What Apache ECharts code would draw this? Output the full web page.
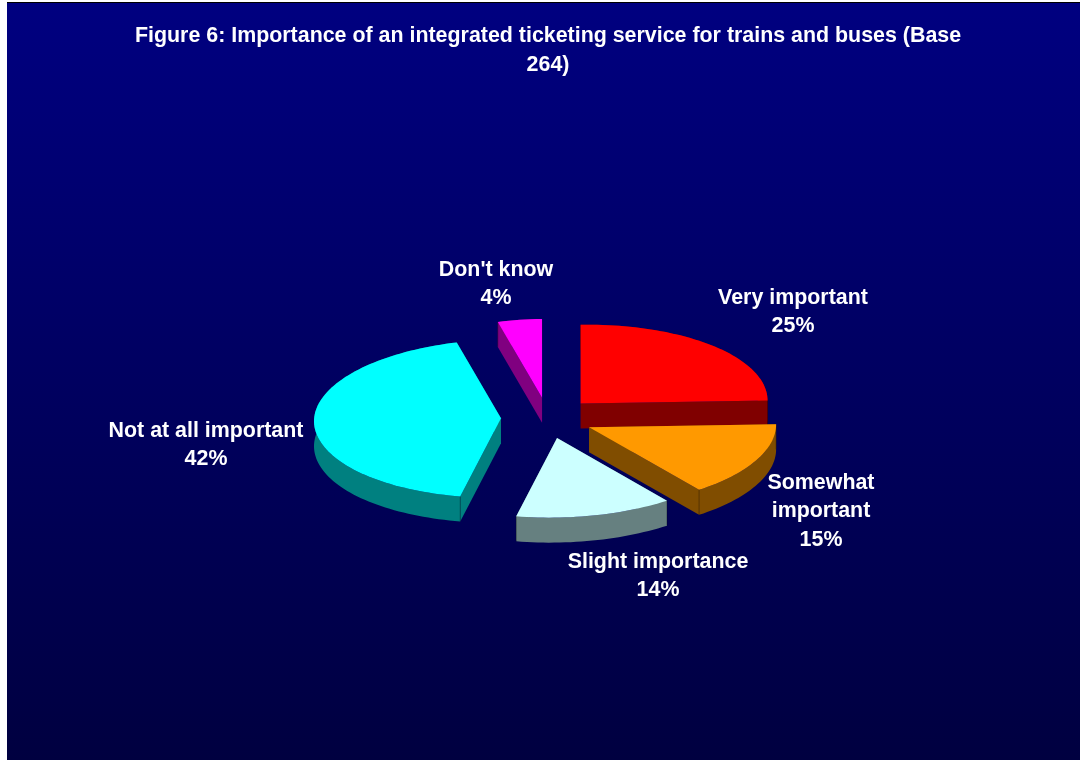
<!DOCTYPE html>
<html>
<head>
    <meta charset="utf-8">
    <title>Figure 6</title>
    <style>body{margin:0;background:#fff;}</style>
</head>
<body>
<div id="main" style="width:1080px;height:760px;"></div>

<script src="https://cdn.jsdelivr.net/npm/echarts@6/dist/echarts.min.js"></script>
<script type="text/javascript">
// data
var categories = ['Very important', 'Somewhat important', 'Slight importance', 'Not at all important', "Don't know"];
var labelLines = [['Very important'], ['Somewhat', 'important'], ['Slight importance'], ['Not at all important'], ["Don't know"]];
// printed percentages
var percents = [25, 15, 14, 42, 4];
var values = [25, 15, 13.5, 42.7, 3.8];

// colours
var topColors = ['#ff0000', '#ff9900', '#ccffff', '#00ffff', '#ff00ff'];
var sideColors = ['#800000', '#804d00', '#668080', '#008080', '#800080'];

// pie layout
var cx = 547.6, cy = 418;
var rx = 187, ryBack = 78.7, ryFront = 79.5;
var explode = 46.6, explodeY = 20.5;
var depth = 25, tilt = 3;
var font = '"Liberation Sans", Arial, sans-serif';
var labelCenter = [[793, 298], [821, 483], [658, 562], [206, 431], [496, 270]];

var total = values.reduce(function (a, b) { return a + b; }, 0);

// angle in radians clockwise from the top -> screen offset from the slice apex
function proj(a, r) {
    var c = Math.cos(a), s = Math.sin(a);
    var ry = c > 0 ? ryBack : ryFront;
    return [r * rx * s, -r * ry * c - tilt * r * s];
}

function renderSlice(params, api) {
    var i = params.dataIndex;
    var before = 0;
    for (var k = 0; k < i; k++) before += values[k];
    var a0 = before / total * Math.PI * 2;
    var a1 = (before + api.value(0)) / total * Math.PI * 2;
    var mid = (a0 + a1) / 2;
    var ox = cx + explode * Math.sin(mid);
    var oy = cy - explodeY * Math.cos(mid);

    var arc = [];
    var n = Math.max(2, Math.ceil((a1 - a0) / 0.03));
    for (var j = 0; j <= n; j++) {
        var p = proj(a0 + (a1 - a0) * j / n, 1);
        arc.push([ox + p[0], oy + p[1]]);
    }
    var apex = [ox, oy];
    var down = function (q) { return [q[0], q[1] + depth]; };
    var first = arc[0], last = arc[arc.length - 1];
    var rim = arc.concat(arc.map(down).reverse());
    var side = { fill: sideColors[i] };
    var edge = { stroke: 'rgba(0,0,0,0.3)', lineWidth: 1 };

    var children = [
        { type: 'polygon', shape: { points: [apex, first, down(first), down(apex)] }, style: side },
        { type: 'polygon', shape: { points: [apex, last, down(last), down(apex)] }, style: side },
        { type: 'polygon', shape: { points: rim }, style: side },
        { type: 'polyline', shape: { points: [first, down(first)] }, style: edge },
        { type: 'polyline', shape: { points: [last, down(last)] }, style: edge },
        { type: 'polygon', shape: { points: [apex].concat(arc) }, style: { fill: topColors[i] } }
    ];

    // label: name lines + percent
    var lines = labelLines[i].concat([percents[i] + '%']);
    for (var m = 0; m < lines.length; m++) {
        children.push({
            type: 'text',
            style: {
                x: labelCenter[i][0],
                y: labelCenter[i][1] + m * 28.4,
                text: lines[m],
                fill: '#ffffff',
                font: 'bold 21.4px ' + font,
                textAlign: 'center',
                textVerticalAlign: 'middle'
            }
        });
    }
    return { type: 'group', children: children };
}

var myChart = echarts.init(document.getElementById('main'), null, { renderer: 'canvas' });

var option = {
    animation: false,
    tooltip: { show: false },
    graphic: [
        {
            type: 'rect', z: -10, silent: true,
            shape: { x: 7, y: 3, width: 1073, height: 757 },
            style: {
                fill: new echarts.graphic.LinearGradient(0, 0, 0, 1, [
                    { offset: 0, color: '#000080' },
                    { offset: 1, color: '#000040' }
                ])
            }
        },
        { type: 'rect', z: -9, silent: true, shape: { x: 7, y: 2, width: 1073, height: 1 }, style: { fill: '#000000' } }
    ],
    title: {
        text: 'Figure 6: Importance of an integrated ticketing service for trains and buses (Base\n264)',
        left: 543,
        top: 17,
        textAlign: 'center',
        textStyle: {
            color: '#ffffff',
            fontFamily: font,
            fontWeight: 'bold',
            fontSize: 21.4,
            lineHeight: 29
        }
    },
    series: [{
        type: 'custom',
        coordinateSystem: 'none',
        silent: true,
        renderItem: renderSlice,
        data: values.map(function (v, i) { return { name: categories[i], value: [v] }; })
    }]
};

myChart.setOption(option);
</script>
</body>
</html>
